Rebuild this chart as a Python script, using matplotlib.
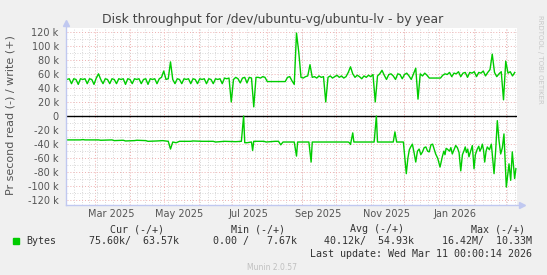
import matplotlib
matplotlib.use("Agg")
import matplotlib.pyplot as plt
import matplotlib.dates as mdates
import pandas as pd
from datetime import datetime, timedelta

# data (k bytes per second)
start = datetime(2025, 2, 4)
end = start + timedelta(days=400)

# write (+), one value every 2 days
write_vals = [
    52, 53, 46, 53, 52, 45, 53, 52, 53, 46,
    53, 52, 45, 54, 60, 52, 46, 53, 52, 46,
    53, 52, 46, 53, 52, 53, 45, 53, 52, 46,
    53, 52, 53, 46, 52, 53, 45, 53, 52, 53,
    46, 53, 55, 64, 52, 53, 77, 52, 46, 53,
    52, 46, 53, 52, 53, 46, 53, 52, 46, 53,
    52, 53, 46, 53, 52, 46, 53, 52, 53, 46,
    54, 53, 54, 20, 52, 55, 53, 47, 54, 55,
    47, 55, 54, 13, 55, 55, 54, 56, 55, 49,
    49, 49, 49, 49, 49, 49, 49, 49, 55, 56,
    50, 45, 118, 91, 55, 54, 56, 57, 73, 55,
    56, 54, 57, 55, 56, 20, 55, 57, 54, 56,
    58, 55, 57, 54, 56, 62, 70, 60, 55, 58,
    56, 53, 57, 55, 58, 56, 59, 20, 57, 60,
    65, 58, 52, 59, 60, 57, 52, 60, 59, 53,
    59, 61, 57, 52, 60, 68, 24, 60, 57, 61,
    58, 54, 54, 54, 54, 54, 54, 58, 60, 59,
    62, 56, 61, 60, 63, 56, 61, 62, 55, 62,
    61, 63, 56, 62, 61, 64, 57, 62, 66, 88,
    62, 56, 60, 63, 23, 78, 61, 63, 57, 62,
]
write_dates = pd.date_range(start, periods=len(write_vals), freq="2D")

# read (-), day offsets from start
read_days = [
    0, 12, 14, 16, 28, 30, 40, 42, 50, 52, 60, 62, 70, 72, 80, 85, 90, 92, 94, 97,
    100, 110, 112, 120, 130, 132, 140, 150, 155, 157, 158, 160, 164, 165, 166, 175, 177, 185, 188, 190,
    192, 202, 204, 205, 215, 217, 218, 230, 240, 250, 251, 252, 254, 255, 265, 273, 275, 276, 285, 290,
    291.5, 293, 299, 301.6, 303, 304.3, 305.5, 307, 308.5, 310, 311.5, 313, 314.5, 316, 317.5, 319, 320.5, 322, 323.5, 325,
    326.4, 327.7, 329.5, 331.6, 333.6, 335, 336, 337, 338, 340, 341.2, 342.5, 344, 345.5, 347, 348.5, 350, 351.5, 353, 354,
    355, 356.2, 357.3, 358.8, 360.3, 361.8, 363, 364.7, 366, 367, 368.2, 369.2, 370.2, 371.3, 372.5, 373.6, 375.5, 377.2, 379.6, 381,
    382.5, 384, 385.5, 387, 388.4, 390.5, 392.9, 394.4, 395.8, 397.9, 399,
]
read_vals = [
    -34, -34, -33.5, -34, -34, -34.5, -34, -35, -34.5, -35.5, -35, -34.5, -35, -36, -35.5, -35, -36, -47, -37, -38,
    -36, -36, -35.5, -36, -36, -37, -36, -36.5, -36, 0, -38, -38, -37, -49, -36, -36, -37, -36, -36, -41,
    -37, -37, -57, -37, -37, -65.5, -37, -37, -37, -37, -38, -40.5, -24, -37, -37, -37, 0, -37, -37, -37,
    -22.6, -37, -37, -82, -60, -48, -44, -40, -52, -65.5, -50, -47, -55, -51, -45, -44, -50, -51, -41, -40,
    -47, -54, -60, -72.6, -58, -50, -55, -46, -47, -50, -45, -54, -48, -42, -45, -52, -78, -55, -49, -44,
    -52, -47, -58, -50, -42, -75, -55, -47, -43, -50, -46, -40, -48, -65.5, -50, -44, -48, -40, -82, -50,
    -6.6, -35, -54, -45, -25.5, -101, -68, -91.5, -51, -89, -75,
]
read_dates = [start + timedelta(days=d) for d in read_days]

ytick_vals = list(range(-120, 121, 20))
xlabel_dates = [datetime(2025, 3, 15), datetime(2025, 5, 15), datetime(2025, 7, 15),
                datetime(2025, 9, 15), datetime(2025, 11, 15), datetime(2026, 1, 15)]
xlabel_text = ["Mar 2025", "May 2025", "Jul 2025", "Sep 2025", "Nov 2025", "Jan 2026"]

W, H = 547, 275
green = "#00cc00"
txt = "#555555"


def fx(x):
    return x / W


def fy(y):
    return 1 - y / H


fig = plt.figure(figsize=(W / 100, H / 100), dpi=100, facecolor="#f0f0f0")
ax = fig.add_axes([fx(67), fy(205), 450 / W, 177 / H])
ax.set_facecolor("white")
ax.set_xlim(start, end)
ax.set_ylim(-126.6, 125.2)
for s in ax.spines.values():
    s.set_visible(False)

# grid: weekly + monthly verticals, 10k / 20k horizontals
d = start
while d < end:
    if d.weekday() == 0:
        ax.axvline(d, color="#cccccc", lw=0.6, ls=(0, (1, 2)), zorder=1)
    if d.day == 1:
        ax.axvline(d, color="#eeb0b0", lw=0.7, ls=(0, (1, 2)), zorder=1)
    d += timedelta(days=1)
for v in range(-120, 121, 10):
    if v % 20 == 0:
        ax.axhline(v, color="#eeb0b0", lw=0.7, ls=(0, (1, 2)), zorder=1)
    else:
        ax.axhline(v, color="#cccccc", lw=0.6, ls=(0, (1, 2)), zorder=1)
ax.axhline(0, color="black", lw=1.0, zorder=2)

ax.plot(write_dates, write_vals, color=green, lw=1.0, zorder=3)
ax.plot(read_dates, read_vals, color=green, lw=1.0, zorder=3)

ax.set_yticks(ytick_vals)
ax.set_yticklabels(["0" if v == 0 else f"{v} k" for v in ytick_vals])
ax.set_xticks(xlabel_dates)
ax.set_xticklabels(xlabel_text)
ax.tick_params(length=0, labelsize=7, colors=txt)
ax.tick_params(axis="y", pad=6)
ax.tick_params(axis="x", pad=3)

# axis lines with arrows
axc = "#c0c8f0"
fig.add_artist(plt.Line2D([fx(66), fx(66)], [fy(205), fy(24)], color=axc, lw=1.0))
fig.add_artist(plt.Line2D([fx(66), fx(521)], [fy(205), fy(205)], color=axc, lw=1.0))
fig.add_artist(plt.Line2D([fx(66)], [fy(23)], marker="^", ms=4, color=axc))
fig.add_artist(plt.Line2D([fx(522)], [fy(205)], marker=">", ms=4, color=axc))

fig.text(fx(272.5), fy(19), "Disk throughput for /dev/ubuntu-vg/ubuntu-lv - by year",
         ha="center", va="center", fontsize=8.9, color="#444444")
fig.text(fx(11), fy(115), "Pr second read (-) / write (+)", rotation=90,
         ha="center", va="center", fontsize=8, color=txt)
fig.text(fx(540), fy(15), "RRDTOOL / TOBI OETIKER", rotation=-90,
         ha="center", va="top", fontsize=5, color="#c8c8c8")

# legend
mono = dict(family="DejaVu Sans Mono", fontsize=7.2, color="#333333", va="center")
for label, xr in [("Cur (-/+)", 164), ("Min (-/+)", 285), ("Avg (-/+)", 404), ("Max (-/+)", 525)]:
    fig.text(fx(xr), fy(229), label, ha="right", **mono)
fig.add_artist(plt.Rectangle((fx(13), fy(244)), 6 / W, 6 / H, color=green,
                             transform=fig.transFigure))
fig.text(fx(26), fy(241), "Bytes", ha="left", **mono)
for val, xr in [("75.60k/  63.57k", 179), ("0.00 /   7.67k", 297),
                ("40.12k/  54.93k", 414), ("16.42M/  10.33M", 532)]:
    fig.text(fx(xr), fy(241), val, ha="right", **mono)
fig.text(fx(532), fy(254), "Last update: Wed Mar 11 00:00:14 2026", ha="right", **mono)
fig.text(fx(272), fy(267.5), "Munin 2.0.57", ha="center", va="center",
         fontsize=5.5, color="#c0c0c0")

fig.savefig("out.png", dpi=100, facecolor=fig.get_facecolor())
